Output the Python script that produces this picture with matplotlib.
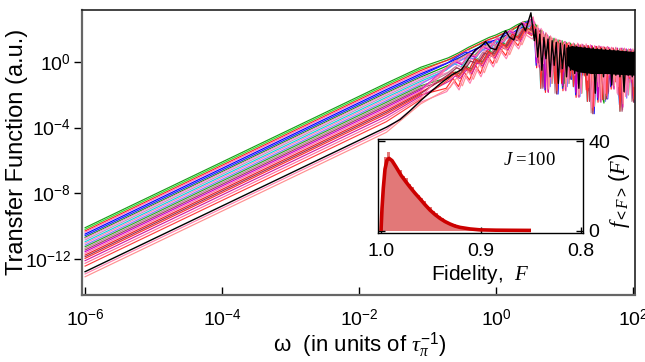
import numpy as np
import matplotlib
matplotlib.use("Agg")
import matplotlib.pyplot as plt

plt.rcParams['font.family'] = ['Liberation Sans', 'DejaVu Sans']
plt.rcParams['mathtext.fontset'] = 'custom'
plt.rcParams['mathtext.rm'] = 'Liberation Sans'
plt.rcParams['mathtext.it'] = 'Liberation Serif:italic'
plt.rcParams['mathtext.bf'] = 'Liberation Sans:bold'

# ---------------- main panel data (log10 units) ----------------
curve_colors = ['#1aa01a', '#33dd33', '#ff2020', '#ff77bb', '#0000ff', '#2020ff',
                '#009900', '#ff88cc', '#c090c0', '#00dddd', '#ff80c0', '#8877ff',
                '#22aa22', '#c08898', '#a04060', '#cc00cc', '#ff70b0', '#ee2222',
                '#993355', '#ff3030', '#d020a0', '#ff6fa0', '#ff4040', '#ff80b0',
                '#ff9090']
# log10 transfer function at omega = 1e-6
lf_log10 = [-10.09, -10.19, -10.29, -10.37, -10.48, -10.58, -10.68, -10.74, -10.84,
            -10.95, -11.04, -11.15, -11.25, -11.35, -11.45, -11.55, -11.65, -11.76,
            -11.86, -11.96, -12.10, -12.26, -12.43, -12.91, -13.08]
# log10 transfer function at omega = 10**-1.6
knee_log10 = [-1.29, -1.39, -1.49, -1.57, -1.68, -1.78, -1.88, -1.94, -2.04,
              -2.15, -2.24, -2.35, -2.45, -2.55, -2.65, -2.75, -2.85, -2.96,
              -3.06, -3.16, -3.30, -3.46, -3.63, -4.11, -4.28]
# log10 transfer function at omega = 10**-1.1
bend_log10 = [-0.32, -0.42, -0.52, -0.62, -0.72, -0.82, -0.92, -0.98, -1.08,
              -1.18, -1.26, -1.36, -1.45, -1.54, -1.62, -1.70, -1.78, -1.86,
              -1.93, -2.00, -2.08, -2.18, -2.28, -2.45, -2.55]
mid_id = [0, 0, 0, 1, 0, 1, 1, 2, 1, 2, 2, 1, 3, 2, 3, 2, 1, 3, 2, 4, 3, 2, 3, 4, 4]
hf_id = [0, 2, 1, 3, 4, 1, 0, 2, 4, 3, 1, 2, 0, 4, 3, 1, 2, 0, 4, 3, 1, 2, 4, 2, 1]
shift_u = [0.000, 0.022, -0.018, 0.011, 0.028, -0.025, 0.006, -0.009, 0.017, -0.029,
           0.014, -0.004, 0.026, -0.015, 0.003, -0.021, 0.019, -0.011, 0.009, -0.027,
           0.024, -0.007, 0.013, -0.019, 0.030]
shift_v = [0.0, -0.1, -0.15, 0.1, -0.25, 0.0, -0.1, 0.1, -0.2, 0.0,
           -0.1, -0.3, 0.1, -0.2, 0.0, 0.15, -0.1, 0.1, -0.25, 0.0,
           -0.15, 0.2, -0.05, -0.2, 0.05]

# mid-frequency shapes: (log10 omega, log10 TF)
mid_profiles = [
    [(-0.7, 0.25), (-0.55, 0.55), (-0.4, 0.9), (-0.25, 1.2), (-0.1, 1.5), (0.0, 1.65),
     (0.1, 1.85), (0.2, 2.0), (0.3, 2.25), (0.4, 2.45), (0.48, 2.5), (0.55, 2.2)],
    [(-0.7, -0.1), (-0.55, 0.3), (-0.42, 0.6), (-0.32, 0.5), (-0.2, 1.0), (-0.08, 1.25),
     (0.02, 1.05), (0.12, 1.65), (0.22, 1.85), (0.3, 1.6), (0.4, 2.25), (0.5, 2.5), (0.55, 2.1)],
    [(-0.7, -0.5), (-0.58, -0.1), (-0.48, -0.3), (-0.38, 0.3), (-0.28, 0.15), (-0.18, 0.8),
     (-0.08, 0.6), (0.03, 1.3), (0.12, 1.05), (0.22, 1.75), (0.3, 1.55), (0.4, 2.25),
     (0.47, 2.0), (0.55, 2.55)],
    [(-0.7, -1.0), (-0.62, -0.7), (-0.55, -0.85), (-0.46, -0.35), (-0.38, -0.55), (-0.3, 0.1),
     (-0.22, -0.1), (-0.12, 0.6), (-0.04, 0.4), (0.06, 1.1), (0.15, 0.9), (0.25, 1.6),
     (0.33, 1.4), (0.42, 2.0), (0.5, 1.85), (0.55, 2.2)],
    [(-0.7, -1.6), (-0.6, -1.0), (-0.52, -1.5), (-0.44, -0.6), (-0.36, -1.1), (-0.27, -0.2),
     (-0.2, -0.7), (-0.1, 0.4), (-0.02, -0.1), (0.08, 0.9), (0.17, 0.4), (0.27, 1.4),
     (0.35, 1.0), (0.44, 1.9), (0.55, 1.6)],
]

# high-frequency oscillations, sampled from log10 omega = 0.58 with a per-profile step
HF_U0 = 0.58
hf_steps = [0.030, 0.032, 0.031, 0.034, 0.033]
hf_profiles = [
    [2.0, 0.9, 1.8, 0.6, 1.6, 0.3, 1.45, 0.2, 1.35, -0.1, 1.25, 0.0, 1.2, -1.4, 1.1, -0.2,
     1.05, -0.4, 1.0, -0.3, 0.95, -0.5, 0.95, -0.4, 0.9, -1.8, 0.9, -0.5, 0.85, -0.7, 0.85,
     -0.5, 0.8, -2.4, 0.8, -0.7, 0.75, -0.5, 0.75, -0.8, 0.7, -1.5, 0.7, -0.7, 0.65, -0.9,
     0.65, -0.6, 0.6],
    [2.2, -0.2, 1.9, 1.0, 1.7, -1.7, 1.5, 0.6, 1.3, -0.4, 1.2, 0.3, 1.15, -1.6, 1.1, -0.2,
     1.0, -0.6, 0.95, -2.0, 0.9, -0.3, 0.9, -0.7, 0.85, -1.2, 0.85, -0.4, 0.8, -2.3, 0.8,
     -0.6, 0.75, -0.8, 0.75, -1.5, 0.7, -0.5, 0.7, -2.6, 0.7, -0.7, 0.65, -1.1, 0.65, -2.2,
     0.6, -0.8, 0.6],
    [1.8, 0.5, 1.6, 0.0, 1.5, 0.8, 1.4, -1.2, 1.25, 0.2, 1.2, -0.5, 1.1, 0.1, 1.05, -1.2,
     1.0, -0.2, 0.95, -0.6, 0.95, -1.8, 0.9, -0.3, 0.9, -0.9, 0.85, -2.6, 0.8, -1.4, 0.8,
     -0.4, 0.75, -2.1, 0.75, -0.6, 0.7, -0.9, 0.7, -1.7, 0.65, -0.5, 0.65, -1.9, 0.6, -0.7,
     0.6, -1.3, 0.55],
    [2.1, 1.2, 1.95, -1.6, 1.7, 0.4, 1.5, -0.2, 1.35, -1.3, 1.25, 0.0, 1.15, -0.6, 1.1, -0.1,
     1.05, -1.5, 1.0, -0.4, 0.95, -0.8, 0.9, -2.4, 0.9, -0.5, 0.85, -1.0, 0.85, -0.6, 0.8,
     -1.9, 0.75, -0.4, 0.75, -1.2, 0.7, -3.0, 0.7, -0.6, 0.65, -1.0, 0.65, -0.7, 0.6, -2.5,
     0.6, -0.9, 0.55],
    [1.9, 0.2, 1.75, 0.9, 1.55, -0.6, 1.45, 0.4, 1.3, -1.7, 1.2, -0.2, 1.1, 0.0, 1.05, -0.8,
     1.0, -0.3, 0.95, -1.1, 0.9, -0.2, 0.9, -1.5, 0.85, -2.9, 0.85, -0.3, 0.8, -1.1, 0.8,
     -2.0, 0.75, -0.5, 0.75, -0.9, 0.7, -1.8, 0.7, -1.6, 0.65, -0.6, 0.65, -2.2, 0.6, -0.5,
     0.6, -1.9, 0.55],
]

# the black curve
black_u = [-6.0, -1.6, -1.4, -1.25, -1.1, -0.95, -0.8, -0.65, -0.5, -0.4, -0.3, -0.22,
           -0.15, -0.08, 0.0, 0.08, 0.14, 0.2, 0.26, 0.33, 0.38, 0.43, 0.51, 0.56]
black_v = [-12.77, -3.97, -3.5, -2.95, -2.35, -1.8, -1.27, -0.8, -0.45, 0.2, 0.75, 0.95,
           1.25, 0.85, 0.75, 1.5, 1.9, 1.5, 1.35, 2.2, 2.35, 1.9, 3.0, 1.3]
BLACK_HF_STEP = 0.03
black_hf = [2.0, 0.3, 1.7, -0.5, 1.5, 0.2, 1.4, -0.9, 1.3, -0.2, 1.2, -1.3, 1.15, -0.4,
            1.05, -0.9, 1.0, -0.5, 0.95, -0.7, 0.95, -1.6, 0.9, -0.6, 0.9, -0.8, 0.85, -0.7,
            0.85, -1.9, 0.8, -0.7, 0.8, -0.9, 0.75, -0.7, 0.75, -1.4, 0.7, -0.8, 0.7, -0.9,
            0.65, -1.8, 0.65, -0.8, 0.6, -0.9, 0.6]
black_fill_u = [1.02, 1.1, 1.2, 1.4, 1.6, 1.8, 2.02]
black_fill_top = [0.9, 1.0, 0.95, 0.85, 0.78, 0.72, 0.64]
black_fill_bot = [-0.1, -0.45, -0.6, -0.7, -0.7, -0.75, -0.8]

x_tick_exp = [-6, -4, -2, 0, 2]
y_tick_exp = [0, -4, -8, -12]

# ---------------- inset data ----------------
hist_edges_start = 1.0
hist_bin_width = 0.003
hist_heights = [14, 33, 35, 32, 30, 28, 27, 24.5, 23.5, 21, 19.5, 17, 16, 14.5, 13.5, 11,
                10.5, 8.7, 8, 6.5, 5.6, 4.6, 4.1, 3.2, 2.9, 2.2, 1.9, 1.5, 1.3, 1.1, 0.9,
                0.8, 0.6, 0.6, 0.5, 0.4, 0.4, 0.3, 0.35, 0.3, 0.25, 0.3, 0.2, 0.25, 0.2,
                0.2, 0.15, 0.2, 0.15, 0.1]
fit_F = [1.000, 0.9990, 0.9977, 0.9960, 0.9940, 0.9920, 0.9890, 0.9850, 0.9800, 0.9750,
         0.9710, 0.9660, 0.9610, 0.9560, 0.9510, 0.9460, 0.9410, 0.9360, 0.9310, 0.9260,
         0.9210, 0.9110, 0.9010, 0.8850, 0.8700, 0.8500]
fit_f = [0.0, 10, 19, 27.5, 31.5, 32.3, 31.3, 28.5, 24.8, 21.8, 19.5, 16.8, 14.3, 11.7,
         9.3, 7.3, 5.6, 4.2, 3.1, 2.2, 1.6, 0.9, 0.5, 0.35, 0.3, 0.25]
inset_xticks = [1.0, 0.9, 0.8]
inset_yticks = [0, 40]

# ---------------- figure ----------------
W, H = 645, 362
fig = plt.figure(figsize=(W / 100, H / 100), dpi=100)
ax = fig.add_axes([82 / W, 1 - 295 / H, (635 - 82) / W, (295 - 9.5) / H])
ax.set_xscale('log')
ax.set_yscale('log')

for i in range(len(lf_log10)):
    du, dv = shift_u[i], shift_v[i]
    us = [-6.0, -1.6, -1.1]
    vs = [lf_log10[i], knee_log10[i], bend_log10[i]]
    for (pu, pv) in mid_profiles[mid_id[i]]:
        us.append(pu + du)
        vs.append(pv + dv)
    k = hf_id[i]
    hf = hf_profiles[k]
    hu = HF_U0 + hf_steps[k] * np.arange(len(hf)) + du
    us.extend(hu.tolist())
    vs.extend([h + dv for h in hf])
    ax.plot(10 ** np.array(us), 10 ** np.array(vs), color=curve_colors[i], lw=0.85,
            zorder=2)

bu = list(black_u) + (HF_U0 + BLACK_HF_STEP * np.arange(len(black_hf))).tolist()
bv = list(black_v) + list(black_hf)
ax.plot(10 ** np.array(bu), 10 ** np.array(bv), color='black', lw=1.0, zorder=3)
ax.fill_between(10 ** np.array(black_fill_u), 10 ** np.array(black_fill_bot),
                10 ** np.array(black_fill_top), color='black', lw=0, zorder=3)

ax.set_xlim(10 ** -6.045, 10 ** 2.03)
ax.set_ylim(10 ** -14.19, 10 ** 3.2)
ax.xaxis.set_major_locator(matplotlib.ticker.FixedLocator([10.0 ** e for e in x_tick_exp]))
ax.xaxis.set_major_formatter(matplotlib.ticker.FixedFormatter(
    [r'$10^{%d}$' % e for e in x_tick_exp]))
ax.yaxis.set_major_locator(matplotlib.ticker.FixedLocator([10.0 ** e for e in y_tick_exp]))
ax.yaxis.set_major_formatter(matplotlib.ticker.FixedFormatter(
    [r'$10^{%d}$' % e for e in y_tick_exp]))
ax.xaxis.set_minor_locator(matplotlib.ticker.NullLocator())
ax.yaxis.set_minor_locator(matplotlib.ticker.NullLocator())
ax.tick_params(axis='x', direction='in', length=6, width=1.0, labelsize=14, pad=10)
ax.tick_params(axis='y', direction='out', length=6, width=1.0, labelsize=14, pad=2)
for s in ['left', 'bottom']:
    ax.spines[s].set_color('#666666')
    ax.spines[s].set_linewidth(1.6)
for s in ['top', 'right']:
    ax.spines[s].set_color('#222222')
    ax.spines[s].set_linewidth(1.2)

fig.text(17.5 / W, 1 - 152 / H, 'Transfer Function (a.u.)', rotation=90,
         ha='center', va='center', fontsize=17)
fig.text(360 / W, 1 - 345 / H, r'ω  (in units of $\tau_{\pi}^{-1}$)',
         ha='center', va='center', fontsize=16)

# ---------------- inset ----------------
ai = fig.add_axes([378 / W, 1 - 233 / H, (583 - 378) / W, (233 - 139) / H])
ai.set_facecolor('white')
ai.set_zorder(5)
edges = hist_edges_start - hist_bin_width * np.arange(len(hist_heights) + 1)
ai.bar(edges[:-1], hist_heights, width=-hist_bin_width, align='edge',
       color='#e27878', lw=0)
ai.plot(fit_F, fit_f, color='#cc0000', lw=2.6, solid_capstyle='butt')
ai.set_xlim(1.003, 0.798)
ai.set_ylim(-0.9, 40.9)
ai.set_xticks(inset_xticks)
ai.set_xticklabels(['1.0', '0.9', '0.8'])
ai.set_yticks(inset_yticks)
ai.set_yticklabels(['0', '40'])
ai.tick_params(axis='x', direction='in', length=4, width=1.0, labelsize=14, pad=7)
ai.tick_params(axis='y', direction='in', length=5, width=1.0, labelsize=14, pad=4,
               left=True, right=True, labelleft=False, labelright=True)
for s in ai.spines.values():
    s.set_color('black')
    s.set_linewidth(1.0)
ai.set_xlabel(r'Fidelity,  $F$', fontsize=15, labelpad=2)
ai.text(0.74, 0.77, r'$J\ $=100', transform=ai.transAxes, ha='center', va='center',
        fontsize=13.5, family='Liberation Serif')
fig.text(620 / W, 1 - 190 / H, r'$f_{<F>}\,(F)$', rotation=90, ha='center',
         va='center', fontsize=16)

fig.savefig('out.png', dpi=100)
